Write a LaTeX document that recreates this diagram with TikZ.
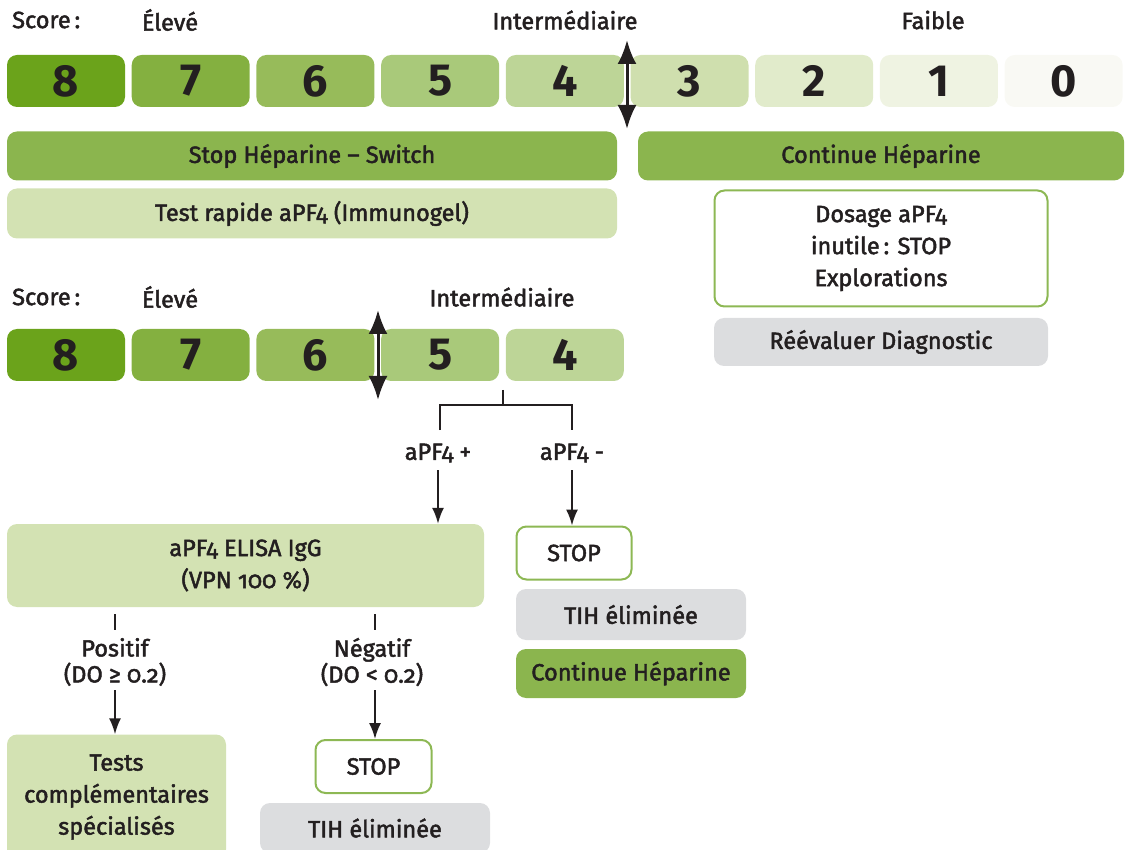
\documentclass[tikz,border=0pt]{standalone}
\usepackage{fontspec}
\setmainfont{Fira Sans}[Numbers=OldStyle, FakeBold=2]
\newfontfamily\digitfont{Fira Sans Bold}[Numbers=Lining]
\usetikzlibrary{arrows.meta}
\definecolor{c8}{HTML}{6BA31B}
\definecolor{c7}{HTML}{84B040}
\definecolor{c6}{HTML}{97BB5A}
\definecolor{c5}{HTML}{A9C97A}
\definecolor{c4}{HTML}{BDD597}
\definecolor{c3}{HTML}{CFDFAE}
\definecolor{c2}{HTML}{E1EBCB}
\definecolor{c1}{HTML}{EFF3E2}
\definecolor{c0}{HTML}{F9F9F4}
\definecolor{midgreen}{HTML}{8BB54E}
\definecolor{lightgreen}{HTML}{D3E2B3}
\definecolor{greybox}{HTML}{DCDDDF}
\definecolor{bordergreen}{HTML}{8DB854}
\definecolor{ink}{HTML}{231F20}
\begin{document}
\begin{tikzpicture}[x=1pt,y=-1pt,
  txt/.style={font=\fontsize{23.5}{30}\selectfont, text=ink, inner sep=0pt},
  scorebox/.style={rounded corners=10pt, minimum width=118pt, minimum height=52pt, inner sep=0pt, text=ink, font=\fontsize{45}{46}\selectfont\digitfont},
  bar/.style={rounded corners=10pt, inner sep=0pt, text=ink, font=\fontsize{23.5}{32}\selectfont, align=center},
  outlined/.style={bar, draw=bordergreen, line width=2pt, fill=white},
  bigarrow/.style={{Latex[length=24pt,width=19pt]}-{Latex[length=24pt,width=19pt]}, line width=3pt, ink},
  smallarrow/.style={-{Latex[length=16pt,width=12pt]}, line width=1.8pt, ink},
  link/.style={line width=1.8pt, ink}
]
\useasboundingbox (0,0) rectangle (1125,850);

% ---------- top scale ----------
\node[txt, anchor=west] (score1) at (12,20) {Score\,:};
\node[txt] (eleve1) at (170,20) {Élevé};
\node[txt] (inter1) at (565,20) {Intermédiaire};
\node[txt] (faible1) at (933,20) {Faible};

\node[scorebox, fill=c8] (t8) at (66,81) {8};
\node[scorebox, fill=c7] (t7) at (190.7,81) {7};
\node[scorebox, fill=c6] (t6) at (315.4,81) {6};
\node[scorebox, fill=c5] (t5) at (440.1,81) {5};
\node[scorebox, fill=c4] (t4) at (564.8,81) {4};
\node[scorebox, fill=c3] (t3) at (689.5,81) {3};
\node[scorebox, fill=c2] (t2) at (814.2,81) {2};
\node[scorebox, fill=c1] (t1) at (938.9,81) {1};
\node[scorebox, fill=c0] (t0) at (1063.6,81) {0};

\coordinate (a1top) at (627,40);
\coordinate (a1bot) at (627,129);
\draw[bigarrow] (a1top) -- (a1bot);

\node[bar, fill=midgreen, minimum width=610pt, minimum height=49pt] (stop) at (312,156) {Stop Héparine – Switch};
\node[bar, fill=midgreen, minimum width=486pt, minimum height=49pt] (cont) at (881,156) {Continue Héparine};
\node[bar, fill=lightgreen, minimum width=610pt, minimum height=50pt] (test) at (312,213.5) {Test rapide aPF4 (Immunogel)};
\node[outlined, minimum width=333pt, minimum height=116pt] (dosage) at (881,248.5) {Dosage aPF4\\inutile\,: STOP\\Explorations};
\node[bar, fill=greybox, minimum width=334pt, minimum height=48pt] (reeval) at (881,342) {Réévaluer Diagnostic};

% ---------- second scale ----------
\node[txt, anchor=west] (score2) at (12,297) {Score\,:};
\node[txt] (eleve2) at (170,297) {Élevé};
\node[txt] (inter2) at (502,297) {Intermédiaire};

\node[scorebox, fill=c8] (s8) at (66,355) {8};
\node[scorebox, fill=c7] (s7) at (190.7,355) {7};
\node[scorebox, fill=c6] (s6) at (315.4,355) {6};
\node[scorebox, fill=c5] (s5) at (440.1,355) {5};
\node[scorebox, fill=c4] (s4) at (564.8,355) {4};

\coordinate (a2top) at (378,310);
\coordinate (a2bot) at (378,400);
\draw[bigarrow] (a2top) -- (a2bot);

% bracket
\coordinate (stem) at (503,390);
\coordinate (stemb) at (503,405);
\coordinate (bl) at (440,430);
\coordinate (br) at (572,430);
\draw[link] (stem) -- (stemb);
\draw[link] (bl) |- (stemb) -| (br);

\node[txt] (pos) at (438,453) {aPF4 +};
\node[txt] (neg) at (572,453) {aPF4 -};

\node[bar, fill=lightgreen, minimum width=477pt, minimum height=83pt] (elisa) at (245.5,565.5) {aPF4 ELISA IgG\\(VPN 100 \%)};
\node[outlined, minimum width=115pt, minimum height=53pt] (stopA) at (574,553) {STOP};
\node[bar, fill=greybox, minimum width=230pt, minimum height=51pt] (tihA) at (631,614.5) {TIH éliminée};
\node[bar, fill=midgreen, minimum width=230pt, minimum height=49pt] (contA) at (631,673.5) {Continue Héparine};

\draw[smallarrow] (pos.south |- 0,470) -- (pos.south |- elisa.north);
\draw[smallarrow] (neg.south |- 0,470) -- (neg.south |- stopA.north);

% under ELISA
\coordinate (tk1a) at (115,614);
\coordinate (tk1b) at (115,630);
\coordinate (tk2a) at (375,614);
\coordinate (tk2b) at (375,630);
\draw[link] (tk1a) -- (tk1b);
\draw[link] (tk2a) -- (tk2b);

\node[txt, align=center, font=\fontsize{23.5}{26}\selectfont] (positif) at (115,662) {Positif\\(DO ≥ 0.2)};
\node[txt, align=center, font=\fontsize{23.5}{26}\selectfont] (negatif) at (372,662) {Négatif\\(DO < 0.2)};

\node[bar, fill=lightgreen, minimum width=219pt, minimum height=125pt] (tests) at (116.5,797) {Tests\\complémentaires\\spécialisés};
\node[outlined, minimum width=116pt, minimum height=53pt] (stopB) at (373.5,766.5) {STOP};
\node[bar, fill=greybox, minimum width=230pt, minimum height=50pt] (tihB) at (375,828) {TIH éliminée};

\draw[smallarrow] (115,690) -- (tests.north -| 115,0);
\draw[smallarrow] (375,690) -- (stopB.north -| 375,0);
\end{tikzpicture}
\end{document}
